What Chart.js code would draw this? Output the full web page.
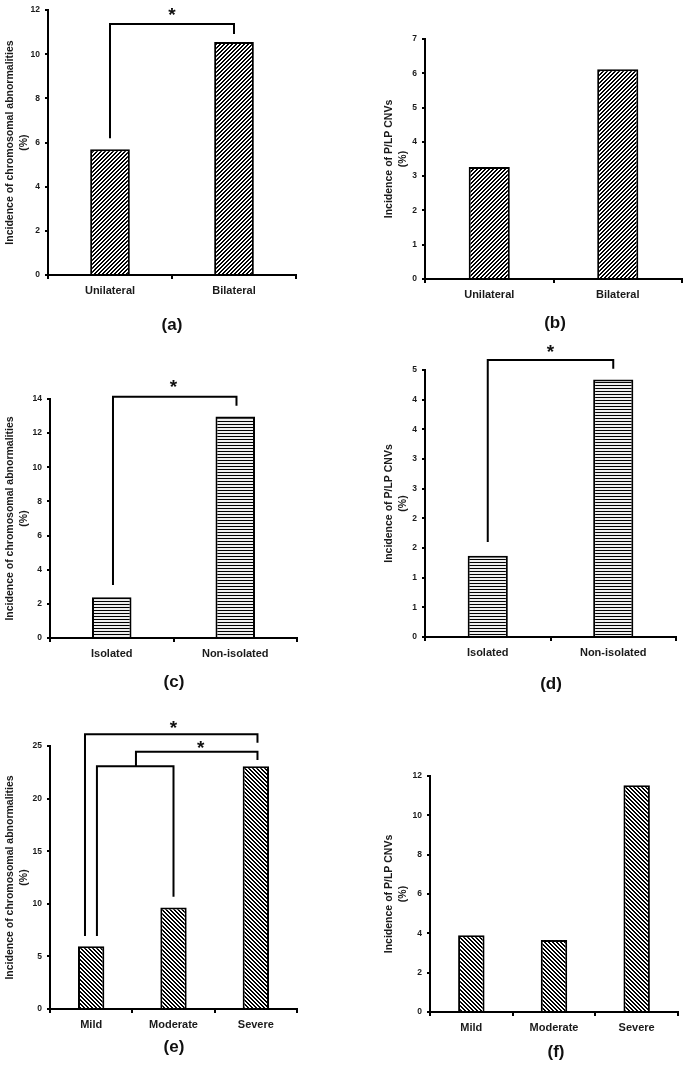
<!DOCTYPE html>
<html>
<head>
<meta charset="utf-8">
<script src="https://cdn.jsdelivr.net/npm/chart.js@4.4.1/dist/chart.umd.min.js"></script>
<style>
  body { margin: 0; background: #fff; }
  #wrap { position: relative; width: 685px; height: 1067px; background: #fff; }
  canvas { position: absolute; }
  .tag { position: absolute; width: 60px; margin-left: -30px; text-align: center;
         font: bold 17px "Liberation Sans", Arial, sans-serif; line-height: 20px; margin-top: -10px; color: #111; }
</style>
</head>
<body>
<div id="wrap">
  <canvas id="ca"></canvas><canvas id="cb"></canvas>
  <canvas id="cc"></canvas><canvas id="cd"></canvas>
  <canvas id="ce"></canvas><canvas id="cf"></canvas>
  <div class="tag" style="left:172px;top:325px">(a)</div>
  <div class="tag" style="left:555px;top:323px">(b)</div>
  <div class="tag" style="left:174px;top:682px">(c)</div>
  <div class="tag" style="left:551px;top:684px">(d)</div>
  <div class="tag" style="left:174px;top:1047px">(e)</div>
  <div class="tag" style="left:556px;top:1052px">(f)</div>
</div>
<script>
// data (percent)
var sideLabels = ['Unilateral', 'Bilateral'];
var sideChromo = [5.7, 10.55];
var sideCnv = [3.27, 6.12];

var isoLabels = ['Isolated', 'Non-isolated'];
var isoChromo = [2.39, 12.98];
var isoCnv = [1.37, 4.34];

var sevLabels = ['Mild', 'Moderate', 'Severe'];
var sevChromo = [5.97, 9.65, 23.07];
var sevCnv = [3.9, 3.66, 11.53];

var chromoTitle = ['Incidence of chromosomal abnormalities', '(%)'];
var cnvTitle = ['Incidence of P/LP CNVs', '(%)'];

var FONT = '"Liberation Sans", Arial, sans-serif';

///////////////////////////////////////////////////////////////
// fill patterns, drawn pixel by pixel so the stripes stay crisp
function makePattern(kind) {
    var c = document.createElement('canvas');
    var g = c.getContext('2d');
    c.width = 4; c.height = (kind == 'h') ? 3 : 4;
    g.fillStyle = (kind == 'h') ? '#eeeeee' : '#fff';
    g.fillRect(0, 0, c.width, c.height);
    g.fillStyle = '#000';
    if (kind == 'h') {
        g.fillRect(0, 0, 4, 1);
    } else {
        for (var r = 0; r < 4; r++) {
            var x0 = (kind == '/') ? (3 - r) : r;
            g.fillRect(x0, r, 1, 1);
            g.fillRect((x0 + 1) % 4, r, 1, 1);
        }
    }
    return document.getElementById('ca').getContext('2d').createPattern(c, 'repeat');
}

///////////////////////////////////////////////////////////////
// significance brackets (x in category index, y in axis units)
function bracketPlugin(list) {
    return {
        id: 'brackets',
        afterDraw: function(chart) {
            var ctx = chart.ctx, xs = chart.scales.x, ys = chart.scales.y;
            ctx.save();
            ctx.strokeStyle = '#000';
            ctx.lineWidth = 2;
            ctx.lineJoin = 'miter';
            list.forEach(function(b) {
                var x1 = xs.getPixelForValue(b.from), x2 = xs.getPixelForValue(b.to);
                var yt = ys.getPixelForValue(b.top);
                ctx.beginPath();
                ctx.moveTo(x1, ys.getPixelForValue(b.leftEnd));
                ctx.lineTo(x1, yt);
                ctx.lineTo(x2, yt);
                ctx.lineTo(x2, ys.getPixelForValue(b.rightEnd));
                ctx.stroke();
                if (b.star) {
                    ctx.fillStyle = '#111';
                    ctx.font = 'bold 19px ' + FONT;
                    ctx.textAlign = 'center';
                    ctx.textBaseline = 'alphabetic';
                    ctx.fillText('*', xs.getPixelForValue(b.starX), yt - b.starGap);
                }
            });
            ctx.restore();
        }
    };
}

///////////////////////////////////////////////////////////////
function drawPanel(p) {
    var cv = document.getElementById(p.id);
    cv.width = p.box[2]; cv.height = p.box[3];
    cv.style.left = p.box[0] + 'px';
    cv.style.top = p.box[1] + 'px';
    var yWidth = p.area[0] - p.box[0];
    var xHeight = p.box[1] + p.box[3] - p.area[3];

    new Chart(cv.getContext('2d'), {
        type: 'bar',
        data: {
            labels: p.labels,
            datasets: [{
                data: p.values,
                backgroundColor: makePattern(p.pattern),
                borderColor: '#000',
                borderWidth: 2,
                categoryPercentage: 1,
                barPercentage: 0.32
            }]
        },
        options: {
            responsive: false,
            animation: false,
            events: [],
            layout: { padding: { left: 0, bottom: 0, top: p.area[1] - p.box[1], right: p.box[0] + p.box[2] - p.area[2] } },
            plugins: { legend: { display: false }, tooltip: { enabled: false } },
            scales: {
                x: {
                    grid: { offset: true, drawOnChartArea: false, tickLength: 4, color: '#000', lineWidth: 2 },
                    border: { color: '#000', width: 2 },
                    ticks: { color: '#1a1a1a', padding: 5, font: { family: FONT, size: 11, weight: 'bold' } },
                    afterFit: function(s) { s.height = xHeight; }
                },
                y: {
                    min: 0, max: p.yMax,
                    grid: { drawOnChartArea: false, tickLength: 3, color: '#000', lineWidth: 2 },
                    border: { color: '#000', width: 2 },
                    ticks: {
                        stepSize: p.yStep, color: '#1a1a1a', padding: 5,
                        font: { family: FONT, size: 8.5, weight: 'bold' },
                        callback: function(v) { return Math.round(v); }
                    },
                    title: {
                        display: true, text: p.title, color: '#1a1a1a',
                        font: { family: FONT, size: 10.5, weight: 'bold', lineHeight: 1.4 },
                        padding: { top: p.titlePad, bottom: 0 }
                    },
                    afterFit: function(s) { s.width = yWidth; }
                }
            }
        },
        plugins: [bracketPlugin(p.brackets)]
    });
}

var panels = [
    { id: 'ca', box: [0, 0, 342, 340], area: [48, 8, 296, 275], labels: sideLabels, values: sideChromo,
      yMax: 12, yStep: 2, pattern: '/', title: chromoTitle, titlePad: 2.5,
      brackets: [{ from: 0, to: 1, top: 11.37, leftEnd: 6.2, rightEnd: 10.92, star: true, starX: 0.5, starGap: 3 }] },
    { id: 'cb', box: [342, 0, 343, 340], area: [425, 39, 682, 279], labels: sideLabels, values: sideCnv,
      yMax: 7, yStep: 1, pattern: '/', title: cnvTitle, titlePad: 39.5, brackets: [] },
    { id: 'cc', box: [0, 340, 342, 360], area: [50, 399, 297, 638], labels: isoLabels, values: isoChromo,
      yMax: 14, yStep: 2, pattern: 'h', title: chromoTitle, titlePad: 2.5,
      brackets: [{ from: 0.01, to: 1.01, top: 14.13, leftEnd: 3.1, rightEnd: 13.6, star: true, starX: 0.5, starGap: 4 }] },
    { id: 'cd', box: [342, 340, 343, 360], area: [425, 370, 676, 637], labels: isoLabels, values: isoCnv,
      yMax: 4.5, yStep: 0.5, pattern: 'h', title: cnvTitle, titlePad: 39.5,
      brackets: [{ from: 0, to: 1, top: 4.67, leftEnd: 1.6, rightEnd: 4.52, star: true, starX: 0.5, starGap: 2 }] },
    { id: 'ce', box: [0, 700, 342, 367], area: [50, 746, 297, 1009], labels: sevLabels, values: sevChromo,
      yMax: 25, yStep: 5, pattern: '\\', title: chromoTitle, titlePad: 2.5,
      brackets: [
        { from: -0.075, to: 2.02, top: 26.11, leftEnd: 6.94, rightEnd: 25.31, star: true, starX: 1.0, starGap: 0 },
        { from: 0.544, to: 2.02, top: 24.46, leftEnd: 23.07, rightEnd: 23.67, star: true, starX: 1.33, starGap: -2 },
        { from: 0.07, to: 1.0, top: 23.07, leftEnd: 6.94, rightEnd: 10.67, star: false }
      ] },
    { id: 'cf', box: [342, 700, 343, 367], area: [430, 776, 678, 1012], labels: sevLabels, values: sevCnv,
      yMax: 12, yStep: 2, pattern: '\\', title: cnvTitle, titlePad: 39.5, brackets: [] }
];

panels.forEach(drawPanel);
</script>
</body>
</html>
